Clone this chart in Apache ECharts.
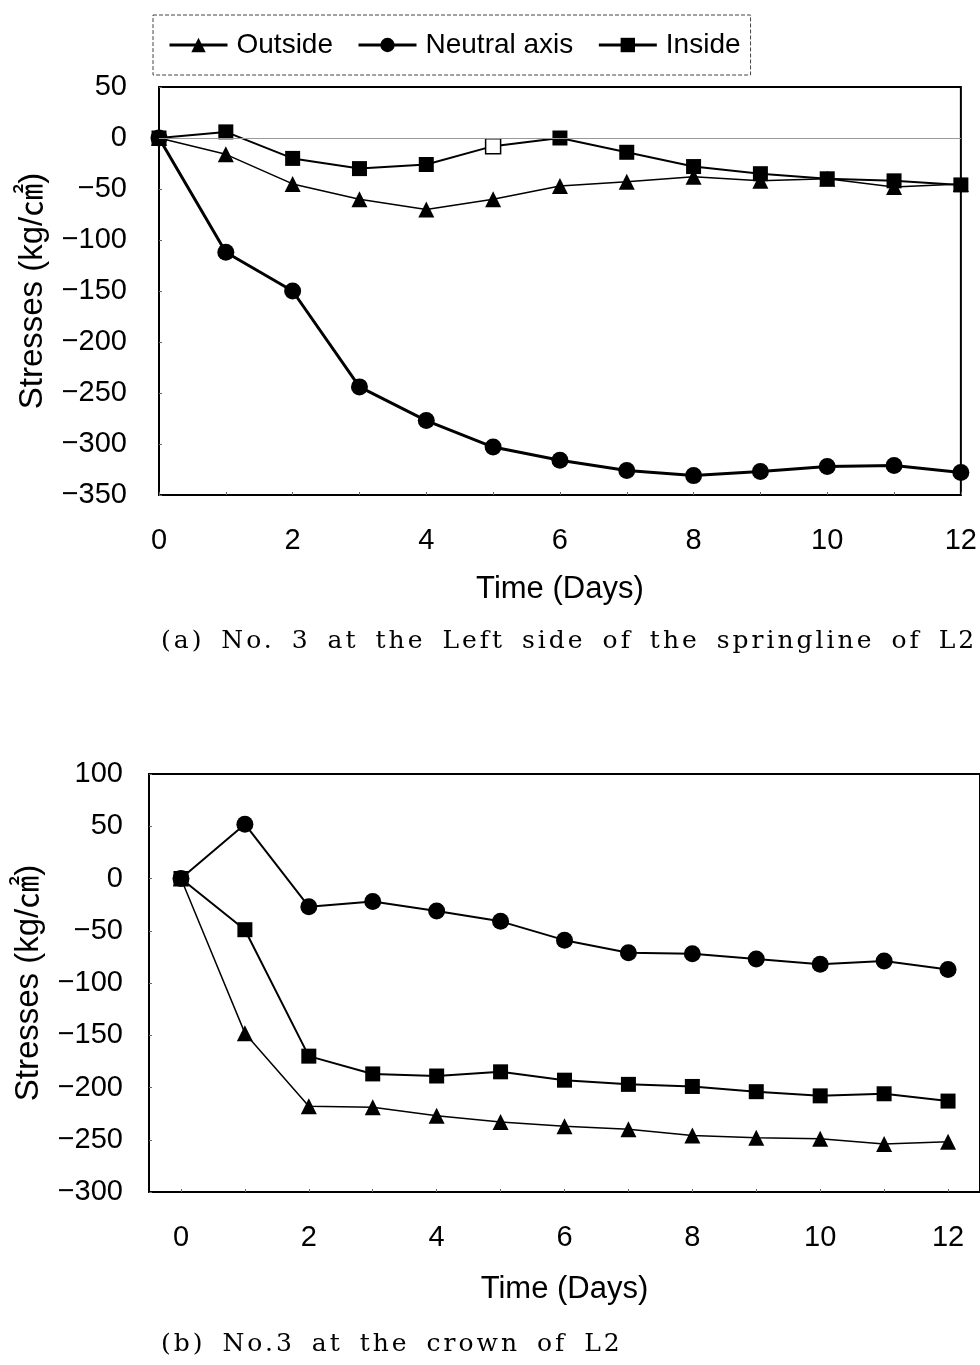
<!DOCTYPE html>
<html>
<head>
<meta charset="utf-8">
<script src="https://cdn.jsdelivr.net/npm/echarts@6/dist/echarts.min.js"></script>
<style>
  html, body { margin: 0; padding: 0; background: #fff; }
  #wrap { position: relative; width: 980px; height: 1365px; overflow: hidden; }
  #chart { width: 980px; height: 1365px; }
  /* 图注：原图字距、词距较宽 */
  .cap {
    position: absolute; left: 161px; margin: 0;
    font-family: 'DejaVu Serif', 'Liberation Serif', serif;
    font-size: 25px; letter-spacing: 3px; word-spacing: 6px; color: #000; white-space: nowrap;
    line-height: 30px;
  }
</style>
</head>
<body>
<div id="wrap">
  <div id="chart"></div>
  <p class="cap" style="top:625px">(a) No. 3 at the Left side of the springline of L2</p>
  <p class="cap" style="top:1328px">(b) No.3 at the crown of L2</p>
</div>
<script>
// 时间（天）
var days = [0, 1, 2, 3, 4, 5, 6, 7, 8, 9, 10, 11, 12]
var dayLabels = [0, 2, 4, 6, 8, 10, 12]

// (a) springline 左侧
var topOutside = [0, -16, -45, -60, -70, -60, -47, -43, -38, -42, -40, -48, -45]
var topNeutral = [0, -112, -150, -244, -277, -303, -316, -326, -331, -327, -322, -321, -328]
var topInside = [0, 6, -20, -30, -26, -8, 0, -14, -28, -35, -40, -42, -46]
var topInsideHollow = [5] // 空心方块的那一天

// (b) crown
var botOutside = [0, -148, -218, -219, -227, -233, -237, -240, -246, -248, -249, -254, -252]
var botNeutral = [0, 52, -27, -22, -31, -41, -59, -71, -72, -77, -82, -79, -87]
var botInside = [0, -49, -170, -187, -189, -185, -193, -197, -199, -204, -208, -206, -213]

var sans = 'Liberation Sans, Arial, Noto Sans CJK KR, sans-serif'

function pairs(arr) {
  return days.map(function (d, i) { return [d, arr[i]] })
}

var insideTopData = days.map(function (d, i) {
  if (topInsideHollow.indexOf(d) >= 0) {
    return { value: [d, topInside[i]], itemStyle: { color: '#fff', borderColor: '#000', borderWidth: 1.5 } }
  }
  return [d, topInside[i]]
})

//负号用 −
function minus(v) {
  return String(v).replace('-', '\u2212')
}

var mychart = echarts.init(document.getElementById('chart'), null, { renderer: 'canvas' })

function yAx(idx, min, max, gap, margin) {
  return {
    type: 'value', gridIndex: idx, min: min, max: max, interval: 50,
    name: 'Stresses (kg/㎠)', nameLocation: 'middle', nameGap: gap, nameRotate: 90,
    nameTextStyle: { fontFamily: sans, fontSize: 33, color: '#000' },
    axisLine: { show: true, onZero: false, lineStyle: { color: '#000', width: 2 } },
    axisTick: { show: true, inside: true, length: 3, lineStyle: { color: '#666' } },
    axisLabel: { fontFamily: sans, fontSize: 29, color: '#000', margin: margin, formatter: minus },
    splitLine: { show: false }
  }
}

function xAx(idx, min, max, gap) {
  return {
    type: 'value', gridIndex: idx, min: min, max: max,
    name: 'Time (Days)', nameLocation: 'middle', nameGap: gap,
    nameTextStyle: { fontFamily: sans, fontSize: 31, color: '#000' },
    axisLine: { onZero: false, lineStyle: { color: '#000', width: 2 } },
    axisTick: { show: true, inside: true, length: 3, customValues: days, lineStyle: { color: '#666' } },
    axisLabel: { fontFamily: sans, fontSize: 29, color: '#000', margin: 31, customValues: dayLabels },
    splitLine: { show: false }
  }
}

mychart.setOption({
  animation: false,
  backgroundColor: '#fff',
  legend: {
    data: ['Outside', 'Neutral axis', 'Inside'],
    left: 153, top: 15,
    padding: [16, 10, 16, 15],
    itemGap: 24, itemWidth: 58, itemHeight: 18,
    borderColor: '#444', borderWidth: 1, borderType: 'dashed',
    lineStyle: { width: 3 },
    textStyle: { fontFamily: sans, fontSize: 28, color: '#000', padding: [0, 0, 0, 4] }
  },
  grid: [
    { left: 159, right: 19, top: 87, height: 408, show: true, borderColor: '#000', borderWidth: 2 },
    { left: 149, width: 833, top: 774, height: 418, show: true, borderColor: '#000', borderWidth: 2 }
  ],
  xAxis: [xAx(0, 0, 12, 79), xAx(1, -0.5, 12.5, 82)],
  yAxis: [yAx(0, -350, 50, 110, 32), yAx(1, -300, 100, 104, 26)],
  series: [
    {
      name: 'Outside', type: 'line', xAxisIndex: 0, yAxisIndex: 0,
      symbol: 'triangle', symbolSize: 16, color: '#000',
      lineStyle: { color: '#000', width: 1.5 },
      data: pairs(topOutside),
      //零线
      markLine: {
        silent: true, symbol: 'none', label: { show: false },
        lineStyle: { color: '#999', width: 1, type: 'solid' },
        data: [{ yAxis: 0 }]
      }
    },
    {
      name: 'Neutral axis', type: 'line', xAxisIndex: 0, yAxisIndex: 0,
      symbol: 'circle', symbolSize: 17, color: '#000',
      lineStyle: { color: '#000', width: 3 },
      data: pairs(topNeutral)
    },
    {
      name: 'Inside', type: 'line', xAxisIndex: 0, yAxisIndex: 0,
      symbol: 'rect', symbolSize: 15, color: '#000',
      lineStyle: { color: '#000', width: 2 },
      data: insideTopData
    },
    {
      name: 'Outside', type: 'line', xAxisIndex: 1, yAxisIndex: 1,
      symbol: 'triangle', symbolSize: 16, color: '#000',
      lineStyle: { color: '#000', width: 1.5 },
      data: pairs(botOutside)
    },
    {
      name: 'Neutral axis', type: 'line', xAxisIndex: 1, yAxisIndex: 1,
      symbol: 'circle', symbolSize: 17, color: '#000',
      lineStyle: { color: '#000', width: 2 },
      data: pairs(botNeutral)
    },
    {
      name: 'Inside', type: 'line', xAxisIndex: 1, yAxisIndex: 1,
      symbol: 'rect', symbolSize: 15, color: '#000',
      lineStyle: { color: '#000', width: 2 },
      data: pairs(botInside)
    }
  ]
})
</script>
</body>
</html>
